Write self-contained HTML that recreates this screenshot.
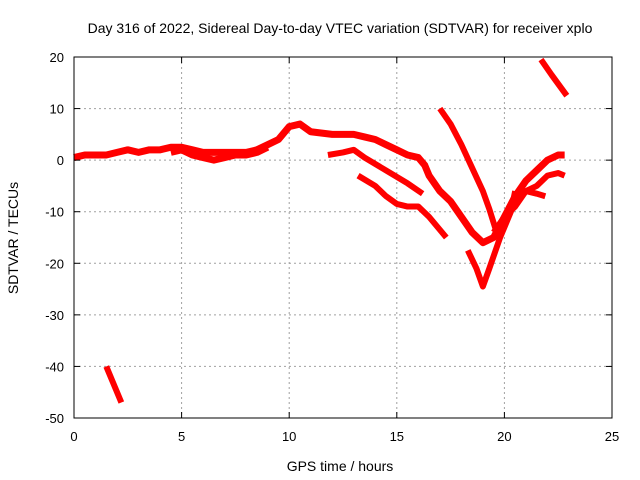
<!DOCTYPE html>
<html><head><meta charset="utf-8"><style>
body{margin:0;background:#fff}
svg{display:block;font-family:"Liberation Sans",sans-serif}
</style></head><body>
<svg id="chart" width="640" height="480">
<text x="340" y="33" text-anchor="middle" font-size="14">Day 316 of 2022, Sidereal Day-to-day VTEC variation (SDTVAR) for receiver xplo</text>
<text x="340" y="471" text-anchor="middle" font-size="14">GPS time / hours</text>
<text transform="translate(18,238) rotate(-90)" text-anchor="middle" font-size="14">SDTVAR / TECUs</text>
<g id="grid"></g><g id="series"></g><g id="axes"></g>
</svg>
<script>
const xTicks=[0,5,10,15,20,25];
const yTicks=[-50,-40,-30,-20,-10,0,10,20];
const trackMain=[[0,0.5],[0.5,1],[1,1],[1.5,1],[2,1.5],[2.5,2],[3,1.5],[3.5,2],[4,2],[4.5,2.5],[5,2.5],[5.5,2],[6,1.5],[6.5,1.5],[7,1.5],[7.5,1.5],[8,1.5],[8.5,2],[9,3],[9.5,4],[10,6.5],[10.5,7],[11,5.5],[12,5],[13,5],[13.5,4.5],[14,4],[14.5,3],[15,2],[15.5,1],[16,0.5],[16.3,-1],[16.5,-3],[17,-6],[17.5,-8],[18,-11],[18.5,-14],[19,-16],[19.5,-15],[20,-11],[20.5,-7],[21,-4],[21.5,-2],[22,0],[22.5,1],[22.8,1]];
const trackBand=[[4.5,1.5],[5,2],[5.5,1],[6,0.5],[6.5,0],[7,0.5],[7.5,1],[8,1],[8.5,1.5],[9,2.5]];
const trackB=[[11.8,1],[12.5,1.5],[13,2],[13.5,0.5],[14.5,-2],[15.5,-4.5],[16.2,-6.5]];
const trackC=[[13.2,-3],[14,-5],[14.5,-7],[15,-8.5],[15.5,-9],[16,-9],[16.5,-11],[17,-13.5],[17.3,-15]];
const trackD=[[17,10],[17.5,7],[18,3],[18.5,-1.5],[19,-6],[19.3,-9.5],[19.6,-13.5]];
const trackV=[[18.3,-17.5],[18.7,-21],[19,-24.5],[19.3,-21],[19.8,-15],[20.3,-10],[20.5,-6]];
const trackE=[[19.5,-14],[20,-11],[20.5,-9],[21,-6],[21.5,-5],[22,-3],[22.5,-2.5],[22.8,-3]];
const trackE2=[[21,-6],[21.5,-6.5],[21.9,-7]];
const trackF=[[21.7,19.5],[22.2,16.5],[22.9,12.5]];
const trackG=[[1.5,-40],[1.8,-43],[2.2,-47]];
const tracks=[trackMain,trackBand,trackB,trackC,trackD,trackV,trackE,trackE2,trackF,trackG];
const L=74,R=612,T=57,B=418;
const xs=h=>L+(h-0)/25*(R-L);
const ys=v=>B-(v+50)/70*(B-T);
const ns="http://www.w3.org/2000/svg";
const grid=document.getElementById('grid'),axes=document.getElementById('axes'),ser=document.getElementById('series');
function mk(tag,attrs,parent){const e=document.createElementNS(ns,tag);for(const k in attrs)e.setAttribute(k,attrs[k]);parent.appendChild(e);return e;}
xTicks.forEach(t=>{const x=xs(t);
 if(t>0&&t<25){const g=mk('line',{x1:x,x2:x,y1:T,y2:B,stroke:'#a0a0a0','stroke-dasharray':'2,3'},grid);}
 mk('line',{x1:x,x2:x,y1:B,y2:B-6,stroke:'#000'},axes);mk('line',{x1:x,x2:x,y1:T,y2:T+6,stroke:'#000'},axes);
 const tx=mk('text',{x:x,y:B+23,'text-anchor':'middle','font-size':13},axes);tx.textContent=t;
 });
yTicks.forEach(t=>{const y=ys(t);
 if(t>-50&&t<20){const g=mk('line',{x1:L,x2:R,y1:y,y2:y,stroke:'#a0a0a0','stroke-dasharray':'2,3'},grid);}
 mk('line',{x1:L,x2:L+6,y1:y,y2:y,stroke:'#000'},axes);mk('line',{x1:R,x2:R-6,y1:y,y2:y,stroke:'#000'},axes);
 const tx=mk('text',{x:L-10,y:y+5,'text-anchor':'end','font-size':13},axes);tx.textContent=t;
 });
const fr=mk('rect',{x:L,y:T,width:R-L,height:B-T,fill:'none',stroke:'#000'},axes);

tracks.forEach((tr,i)=>{const p=mk('polyline',{points:tr.map(d=>xs(d[0])+','+ys(d[1])).join(' '),fill:'none',stroke:'#f00','stroke-width':(i<2?7:6),'stroke-linejoin':'round'},ser);
 });
</script>
</body></html>
